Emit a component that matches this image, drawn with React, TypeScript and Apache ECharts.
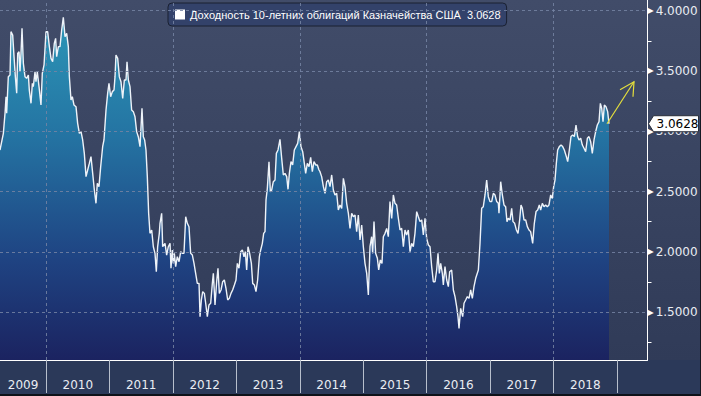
import React, { useEffect, useRef } from 'react';
import * as echarts from 'echarts';

const seriesName = 'Доходность 10-летних облигаций Казначейства США';

// [decimal year, yield %]
const yields2009to2011: [number, number][] = [
  [2009.274,2.845],[2009.327,2.983],[2009.353,3.149],[2009.369,3.287],[2009.379,3.149],[2009.405,3.453],[2009.432,3.467],[2009.447,3.826],[2009.474,3.798],[2009.495,3.619],
  [2009.516,3.453],[2009.537,3.315],[2009.553,3.646],[2009.574,3.660],[2009.589,3.494],[2009.605,3.646],[2009.621,3.854],[2009.642,3.564],[2009.668,3.453],[2009.694,3.439],
  [2009.721,3.467],[2009.736,3.342],[2009.763,3.232],[2009.784,3.398],[2009.799,3.370],[2009.826,3.494],[2009.841,3.411],[2009.862,3.494],[2009.889,3.370],[2009.920,3.218],
  [2009.941,3.481],[2009.968,3.550],[2009.999,3.826],[2010.025,3.826],[2010.052,3.702],[2010.078,3.605],[2010.104,3.577],[2010.130,3.729],[2010.151,3.771],[2010.167,3.619],
  [2010.194,3.702],[2010.220,3.702],[2010.246,3.840],[2010.272,3.945],[2010.299,3.785],[2010.325,3.812],[2010.351,3.702],[2010.367,3.453],[2010.393,3.260],[2010.414,3.287],
  [2010.440,3.218],[2010.472,3.204],[2010.498,3.066],[2010.525,2.983],[2010.551,2.997],[2010.577,2.928],[2010.603,2.817],[2010.630,2.624],[2010.656,2.679],[2010.682,2.734],
  [2010.708,2.790],[2010.735,2.651],[2010.761,2.513],[2010.787,2.403],[2010.808,2.568],[2010.834,2.541],[2010.861,2.707],[2010.892,2.872],[2010.913,2.928],[2010.945,3.177],
  [2010.971,3.315],[2010.992,3.398],[2011.018,3.287],[2011.045,3.329],[2011.071,3.342],[2011.087,3.453],[2011.102,3.633],[2011.129,3.605],[2011.155,3.453],[2011.181,3.411],
  [2011.208,3.273],[2011.234,3.425],[2011.260,3.425],[2011.276,3.577],[2011.297,3.425],[2011.323,3.370],[2011.349,3.177],[2011.376,3.163],[2011.402,3.121],[2011.428,2.997],
  [2011.454,2.955],[2011.481,2.872],[2011.512,3.190],[2011.533,2.955],[2011.554,2.928],[2011.575,2.845],[2011.596,2.624],[2011.617,2.320],[2011.638,2.154],[2011.665,2.182],
  [2011.691,2.043],[2011.717,1.988],[2011.738,1.836],[2011.759,2.043],[2011.785,2.154],
];

const yields2011to2014: [number, number][] = [
  [2011.796,2.237],[2011.822,2.320],[2011.838,2.043],[2011.875,2.071],[2011.901,1.974],[2011.927,2.043],[2011.954,2.071],[2011.969,1.864],[2011.990,2.016],[2012.006,1.905],
  [2012.022,1.988],[2012.043,1.878],[2012.069,1.960],[2012.096,1.919],[2012.122,2.002],[2012.148,1.988],[2012.174,1.988],[2012.201,2.292],[2012.227,2.237],[2012.253,2.209],
  [2012.279,1.988],[2012.306,1.974],[2012.332,1.905],[2012.358,1.822],[2012.384,1.739],[2012.411,1.739],[2012.427,1.463],[2012.448,1.601],[2012.469,1.670],[2012.495,1.656],
  [2012.516,1.574],[2012.542,1.463],[2012.568,1.560],[2012.595,1.574],[2012.621,1.739],[2012.637,1.822],[2012.663,1.560],[2012.689,1.753],[2012.710,1.864],[2012.731,1.656],
  [2012.758,1.684],[2012.784,1.753],[2012.810,1.767],[2012.836,1.698],[2012.863,1.601],[2012.889,1.615],[2012.915,1.656],[2012.941,1.684],[2012.968,1.726],[2012.994,1.767],
  [2013.015,1.905],[2013.041,1.864],[2013.068,2.002],[2013.094,2.016],[2013.120,1.960],[2013.141,2.002],[2013.162,1.850],[2013.183,2.043],[2013.209,1.988],[2013.236,1.905],
  [2013.257,1.739],[2013.283,1.726],[2013.309,1.670],[2013.335,1.767],[2013.362,1.960],[2013.383,2.016],[2013.409,2.071],[2013.430,2.154],[2013.451,2.168],[2013.467,2.430],
  [2013.488,2.527],[2013.514,2.748],[2013.535,2.499],[2013.556,2.513],[2013.582,2.582],[2013.609,2.596],[2013.630,2.817],[2013.656,2.845],[2013.687,2.933],[2013.714,2.776],
  [2013.740,2.638],[2013.766,2.651],[2013.793,2.624],[2013.814,2.519],[2013.835,2.651],[2013.861,2.748],[2013.887,2.721],[2013.913,2.845],[2013.940,2.873],[2013.966,2.900],
  [2013.992,2.997],[2014.018,2.873],[2014.045,2.831],[2014.071,2.734],[2014.092,2.651],[2014.118,2.734],[2014.145,2.707],[2014.171,2.784],[2014.197,2.665],[2014.223,2.748],
  [2014.250,2.721],[2014.276,2.721],[2014.302,2.679],
];

const yields2014to2016: [number, number][] = [
  [2014.318,2.665],[2014.344,2.624],[2014.371,2.541],[2014.397,2.486],[2014.423,2.582],[2014.449,2.596],[2014.476,2.541],[2014.502,2.638],[2014.528,2.513],[2014.554,2.472],
  [2014.581,2.486],[2014.607,2.347],[2014.633,2.389],[2014.660,2.361],[2014.686,2.610],[2014.712,2.541],[2014.738,2.403],[2014.765,2.320],[2014.791,2.195],[2014.817,2.320],
  [2014.843,2.292],[2014.870,2.306],[2014.896,2.168],[2014.922,2.306],[2014.949,2.099],[2014.975,2.223],[2015.001,2.043],[2015.027,1.905],[2015.054,1.822],[2015.080,1.643],
  [2015.106,2.043],[2015.132,2.126],[2015.148,1.988],[2015.169,2.251],[2015.195,1.988],[2015.222,1.947],[2015.243,1.850],[2015.269,1.933],[2015.295,1.905],[2015.316,2.126],
  [2015.343,2.154],[2015.369,2.195],[2015.395,2.126],[2015.421,2.417],[2015.448,2.278],[2015.474,2.472],[2015.500,2.403],[2015.526,2.389],[2015.553,2.278],[2015.579,2.182],
  [2015.605,2.195],[2015.632,2.043],[2015.658,2.182],[2015.684,2.140],[2015.710,2.182],[2015.737,2.002],[2015.763,2.071],[2015.789,2.043],[2015.815,2.154],[2015.842,2.334],
  [2015.868,2.292],[2015.894,2.251],[2015.921,2.265],[2015.947,2.140],[2015.973,2.278],[2015.999,2.112],[2016.026,2.057],[2016.052,2.043],[2016.078,1.878],[2016.104,1.753],
  [2016.131,1.753],[2016.157,1.850],[2016.178,1.988],[2016.199,1.822],[2016.220,1.905],[2016.246,1.822],[2016.262,1.726],[2016.288,1.878],[2016.315,1.767],[2016.341,1.712],
  [2016.362,1.836],[2016.393,1.850],[2016.420,1.684],[2016.446,1.629],[2016.472,1.546],[2016.493,1.463],[2016.509,1.366],[2016.535,1.532],[2016.567,1.463],[2016.588,1.574],
  [2016.614,1.601],[2016.640,1.629],[2016.667,1.615],[2016.693,1.684],[2016.719,1.615],[2016.745,1.712],[2016.772,1.781],
];

const yields2016to2018: [number, number][] = [
  [2016.814,1.850],[2016.840,2.071],[2016.866,2.361],[2016.892,2.375],[2016.919,2.472],[2016.945,2.596],[2016.971,2.458],[2016.997,2.417],[2017.024,2.417],[2017.050,2.486],
  [2017.076,2.472],[2017.103,2.417],[2017.129,2.403],[2017.139,2.320],[2017.166,2.582],[2017.192,2.472],[2017.218,2.389],[2017.244,2.375],[2017.265,2.251],[2017.286,2.278],
  [2017.313,2.265],[2017.339,2.361],[2017.360,2.251],[2017.386,2.237],[2017.413,2.182],[2017.439,2.154],[2017.465,2.265],[2017.486,2.389],[2017.507,2.361],[2017.533,2.265],
  [2017.560,2.265],[2017.586,2.209],[2017.612,2.182],[2017.638,2.168],[2017.670,2.071],[2017.696,2.237],[2017.723,2.334],[2017.749,2.347],[2017.775,2.389],[2017.796,2.347],
  [2017.822,2.403],[2017.849,2.375],[2017.875,2.389],[2017.901,2.375],[2017.927,2.389],[2017.954,2.472],[2017.980,2.444],[2018.001,2.541],[2018.022,2.596],[2018.043,2.734],
  [2018.064,2.845],[2018.090,2.873],[2018.117,2.886],[2018.143,2.873],[2018.169,2.845],[2018.201,2.790],[2018.222,2.748],[2018.248,2.845],[2018.274,2.956],[2018.300,2.969],
  [2018.327,2.956],[2018.353,3.052],[2018.379,2.956],[2018.400,2.928],[2018.427,2.942],[2018.453,2.886],[2018.479,2.859],[2018.505,2.831],[2018.532,2.942],[2018.558,2.956],
  [2018.584,2.914],[2018.610,2.817],[2018.637,2.928],[2018.663,2.997],[2018.689,3.052],[2018.716,3.080],[2018.737,3.232],[2018.758,3.191],[2018.779,3.080],[2018.800,3.218],
  [2018.826,3.204],[2018.852,3.163],[2018.873,3.0628],
];

const yTickLabels = [1.5, 2, 2.5, 3, 3.5, 4];
const yMinorTicks = [1.25, 1.75, 2.25, 2.75, 3.25, 3.75];
const yearStarts = [2010, 2011, 2012, 2013, 2014, 2015, 2016, 2017, 2018, 2019];
const yearLabelPositions = [2009.637, 2010.5, 2011.5, 2012.5, 2013.5, 2014.5, 2015.5, 2016.5, 2017.5, 2018.5];
const yearGridlines = [2010, 2012, 2014, 2016, 2018];
const xRange = [2009.274, 2019.48];
const yRange = [1.1036, 4.0887];

export default function App() {
  const ref = useRef<HTMLDivElement>(null);

  useEffect(() => {
    const el = ref.current;
    if (!el) return;
    const chart = echarts.init(el, null, { renderer: 'svg' });
    const data = [...yields2009to2011, ...yields2011to2014, ...yields2014to2016, ...yields2016to2018];
    const last = data[data.length - 1];
    const lastText = last[1].toFixed(4);
    const labelColor = '#e9ecf2';
    const gridColor = '#7584a3';

    chart.setOption({
      animation: false,
      grid: { left: 0, top: 0, right: 53.5, bottom: 36, containLabel: false, outerBoundsMode: 'none' },
      legend: {
        show: true,
        left: 168,
        top: 3,
        selectedMode: false,
        data: [{ name: seriesName, icon: 'rect' }],
        itemWidth: 10,
        itemHeight: 10,
        backgroundColor: '#33426a',
        borderColor: '#1a2131',
        borderWidth: 1,
        borderRadius: 4,
        padding: [6, 6, 6, 7],
        itemStyle: { color: '#ffffff', borderWidth: 0 },
        textStyle: { color: '#ffffff', fontFamily: 'Liberation Sans', fontSize: 11 },
        formatter: (name: string) => name + '\u00a0\u00a0' + lastText,
      },
      xAxis: {
        type: 'value',
        min: xRange[0],
        max: xRange[1],
        splitLine: { show: false },
        axisLine: { show: true, lineStyle: { color: '#ffffff', width: 1 } },
        axisTick: { show: true, customValues: yearStarts, length: 33, lineStyle: { color: '#b7bfcc', width: 1 } },
        axisLabel: {
          customValues: yearLabelPositions,
          formatter: (v: number) => String(Math.floor(v + 1e-6)),
          color: labelColor,
          fontFamily: 'DejaVu Sans',
          fontSize: 12,
          margin: 19,
        },
      },
      yAxis: {
        type: 'value',
        position: 'right',
        min: yRange[0],
        max: yRange[1],
        splitLine: { show: false },
        axisLine: { show: true, lineStyle: { color: '#ffffff', width: 1 } },
        axisTick: { show: true, customValues: yMinorTicks, length: 4, lineStyle: { color: '#ffffff', width: 1 } },
        axisLabel: {
          customValues: yTickLabels,
          formatter: (v: number) => '{t|\u25B6}' + v.toFixed(4),
          margin: 0,
          color: labelColor,
          fontFamily: 'DejaVu Sans',
          fontSize: 12,
          rich: { t: { fontSize: 8, color: '#ffffff', padding: [0, 2, 0, 0], verticalAlign: 'middle' } },
        },
      },
      series: [
        {
          type: 'line',
          name: seriesName,
          data,
          showSymbol: false,
          symbol: 'none',
          lineStyle: { color: '#eef3f9', width: 1.4 },
          itemStyle: { color: '#ffffff' },
          areaStyle: {
            opacity: 1,
            color: new echarts.graphic.LinearGradient(0, 0, 0, 1, [
              { offset: 0, color: '#2c96b7' },
              { offset: 0.35, color: '#2473a2' },
              { offset: 0.7, color: '#1f4483' },
              { offset: 1, color: '#1b2360' },
            ]),
          },
          markLine: {
            silent: true,
            animation: false,
            symbol: ['none', 'none'],
            label: { show: false },
            emphasis: { disabled: true },
            lineStyle: { type: [3, 3], width: 1, color: gridColor, opacity: 0.85 },
            data: [
              ...yTickLabels.map((v) => ({ yAxis: v })),
              ...yearGridlines.map((v) => ({ xAxis: v })),
            ],
          },
        },
      ],
    });

    const pt = chart.convertToPixel({ gridIndex: 0 }, [last[0], last[1]]) as number[];
    const ax = chart.convertToPixel({ xAxisIndex: 0 }, xRange[1]) as number;
    const px = pt[0];
    const py = pt[1];
    const arrowColor = '#e4df3c';

    chart.setOption({
      graphic: [
        {
          type: 'polygon',
          z: 100,
          shape: { points: [[ax + 1, py], [ax + 6, py - 8], [ax + 51, py - 8], [ax + 51, py + 8], [ax + 6, py + 8]] },
          style: { fill: '#ffffff', stroke: '#2a2f3a', lineWidth: 1 },
        },
        {
          type: 'text',
          z: 101,
          x: ax + 9,
          y: py,
          style: { text: lastText, fill: '#000000', fontFamily: 'DejaVu Sans', fontSize: 12, align: 'left', verticalAlign: 'middle' },
        },
        {
          type: 'line',
          z: 100,
          shape: { x1: px - 2, y1: py, x2: px + 25, y2: py - 42 },
          style: { stroke: arrowColor, lineWidth: 1.2 },
        },
        {
          type: 'polyline',
          z: 100,
          shape: { points: [[px + 11, py - 34], [px + 25, py - 42], [px + 24, py - 27]] },
          style: { stroke: arrowColor, lineWidth: 1.2, fill: 'none' },
        },
        {
          type: 'rect',
          z: 100,
          shape: { x: 0, y: 394, width: 701, height: 2 },
          style: { fill: '#0e1219' },
        },
        {
          type: 'rect',
          z: 100,
          shape: { x: 700, y: 0, width: 1, height: 396 },
          style: { fill: '#151a24' },
        },
      ],
    });

    return () => chart.dispose();
  }, []);

  return (
    <div
      ref={ref}
      style={{
        position: 'fixed',
        left: 0,
        top: 0,
        width: 701,
        height: 396,
        background:
          'linear-gradient(to bottom, #414c69 0px, #303b58 360px, #2b3959 360px, #2b3959 396px)',
      }}
    />
  );
}
